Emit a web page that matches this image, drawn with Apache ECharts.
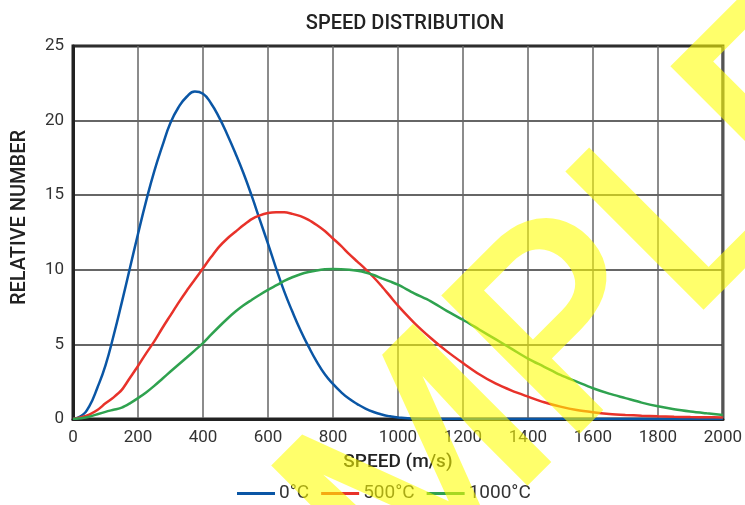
<!DOCTYPE html>
<html>
<head>
<meta charset="utf-8">
<script src="https://cdn.jsdelivr.net/npm/echarts@6/dist/echarts.min.js"></script>
<style>html,body{margin:0;padding:0;background:#fff}#chart{width:745px;height:505px}</style>
</head>
<body>
<div id="chart"></div>
<script>
const speeds = [0,25,50,75,100,125,150,175,200,225,250,275,300,325,350,375,400,425,450,475,500,
  525,550,575,600,625,650,675,700,725,750,775,800,825,850,875,900,925,950,975,1000,
  1050,1100,1150,1200,1250,1300,1350,1400,1450,1500,1550,1600,1650,1700,1750,1800,1850,1900,1950,2000];
const t0 = [0,0.2,0.85,2.1,3.6,5.6,7.8,10.1,12.4,14.6,16.6,18.3,19.85,20.9,21.6,21.95,21.8,21.15,20.2,19.05,17.8,
  16.45,14.95,13.35,11.75,10.1,8.55,7.2,5.95,4.85,3.85,3.0,2.35,1.8,1.35,1.0,0.7,0.47,0.3,0.18,0.1,
  0.02,0,0,0,0,0,0,0,0,0,0,0,0,0,0,0,0,0,0,0];
const t500 = [0,0.12,0.3,0.6,1.05,1.45,1.95,2.75,3.55,4.4,5.2,6.1,6.95,7.8,8.6,9.35,10.1,10.85,11.55,12.1,12.55,
  13.0,13.4,13.65,13.8,13.85,13.85,13.75,13.6,13.35,13.0,12.6,12.1,11.6,11.05,10.55,10.05,9.5,8.9,8.25,7.6,
  6.45,5.45,4.55,3.75,3.0,2.38,1.9,1.5,1.12,0.83,0.6,0.45,0.34,0.27,0.22,0.18,0.15,0.13,0.12,0.1];
const t1000 = [0,0.05,0.15,0.32,0.48,0.62,0.76,1.05,1.4,1.78,2.22,2.7,3.18,3.65,4.12,4.6,5.08,5.65,6.2,6.72,7.2,
  7.62,7.98,8.33,8.65,8.95,9.25,9.5,9.7,9.85,9.96,10.03,10.05,10.04,10.0,9.93,9.82,9.65,9.43,9.22,9.0,
  8.42,7.9,7.25,6.65,6.0,5.35,4.7,4.05,3.5,2.95,2.5,2.06,1.7,1.4,1.1,0.85,0.65,0.5,0.38,0.27];
const seriesNames = ['0°C','500°C','1000°C'];
const xTicks = {min:0,max:2000,interval:200};
const yTicks = {min:0,max:25,interval:5};

const font = 'Roboto';
const pair = arr => speeds.map((s,i)=>[s,arr[i]]);
const chart = echarts.init(document.getElementById('chart'));
chart.setOption({
  animation:false,
  color:['#0a56a5','#e8322a','#2fa24f'],
  title:{text:'SPEED DISTRIBUTION',left:400,textAlign:'center',top:9,
    textStyle:{fontFamily:font,fontSize:20,fontWeight:500,color:'#222'}},
  legend:{top:484,left:237,padding:0,icon:'rect',itemWidth:38,itemHeight:3,itemGap:12,
    textStyle:{fontFamily:font,fontSize:19,color:'#333',padding:[0,0,0,-1]},
    data:seriesNames},
  grid:{left:73,right:18,top:46,bottom:86,show:true,borderColor:'#222',borderWidth:3,containLabel:false},
  xAxis:{type:'value',min:xTicks.min,max:xTicks.max,interval:xTicks.interval,
    name:'SPEED (m/s)',nameLocation:'middle',nameGap:34,
    nameTextStyle:{fontFamily:font,fontSize:19,fontWeight:500,color:'#222'},
    axisLine:{lineStyle:{color:'#222',width:3}},axisTick:{show:false},
    axisLabel:{fontFamily:font,fontSize:17,color:'#333',margin:10,formatter:v=>String(v)},
    splitLine:{lineStyle:{color:'#666',width:1.5}}},
  yAxis:{type:'value',min:yTicks.min,max:yTicks.max,interval:yTicks.interval,
    name:'RELATIVE NUMBER',nameLocation:'middle',nameGap:43,
    nameTextStyle:{fontFamily:font,fontSize:20,fontWeight:500,color:'#222',padding:[0,0,0,30]},
    axisLine:{show:true,lineStyle:{color:'#222',width:3}},axisTick:{show:false},
    axisLabel:{fontFamily:font,fontSize:17,color:'#333',margin:9},
    splitLine:{lineStyle:{color:'#333',width:1.5}}},
  series:[
    {name:seriesNames[0],type:'line',data:pair(t0),showSymbol:false,smooth:0.5,lineStyle:{width:2.5}},
    {name:seriesNames[1],type:'line',data:pair(t500),showSymbol:false,smooth:0.3,lineStyle:{width:2.5}},
    {name:seriesNames[2],type:'line',data:pair(t1000),showSymbol:false,smooth:0.3,lineStyle:{width:2.5}}
  ],
  graphic:[{type:'text',x:478,y:438,rotation:Math.PI/4,z:100,silent:true,
    style:{text:'SAMPLE',font:'500 275px Roboto',align:'center',verticalAlign:'middle',
      fill:'rgba(255,255,0,0.58)'}}]
});
</script>
</body>
</html>
